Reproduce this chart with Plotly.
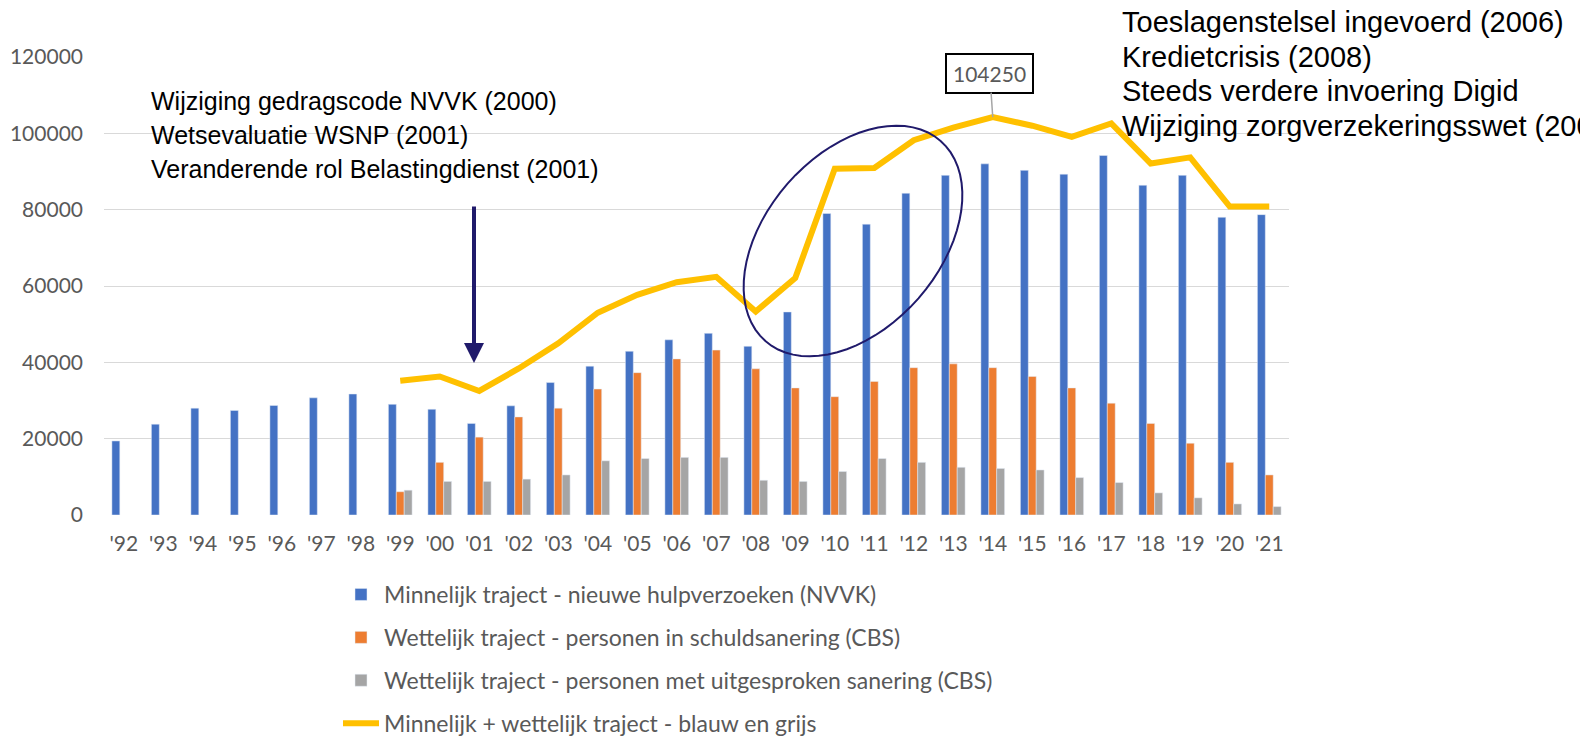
import math
import plotly.graph_objects as go

years = ["'92", "'93", "'94", "'95", "'96", "'97", "'98", "'99", "'00", "'01",
         "'02", "'03", "'04", "'05", "'06", "'07", "'08", "'09", "'10", "'11",
         "'12", "'13", "'14", "'15", "'16", "'17", "'18", "'19", "'20", "'21"]

minnelijk = [19400, 23800, 28000, 27400, 28700, 30700, 31700, 29000, 27700, 24000,
             28600, 34700, 39000, 42900, 45900, 47600, 44200, 53200, 79000, 76200,
             84300, 89000, 92000, 90300, 89300, 94200, 86400, 89000, 78000, 78700]

wettelijk_schuld = [None, None, None, None, None, None, None, 6100, 13800, 20400,
                    25700, 28000, 33000, 37300, 40900, 43200, 38300, 33300, 31000, 35000,
                    38600, 39600, 38600, 36300, 33300, 29300, 24000, 18800, 13800, 10500]

wettelijk_uitgesproken = [None, None, None, None, None, None, None, 6500, 8800, 8800,
                          9400, 10500, 14200, 14800, 15100, 15100, 9100, 8800, 11400, 14800,
                          13800, 12500, 12200, 11800, 9800, 8500, 5800, 4500, 2900, 2200]

totaal = [None, None, None, None, None, None, None, 35200, 36300, 32500,
          38400, 45000, 53000, 57700, 61000, 62400, 53300, 62100, 90700, 90900,
          98200, 101500, 104250, 102000, 99100, 102600, 92100, 93700, 80800, 80800]

names = ["Minnelijk traject - nieuwe hulpverzoeken (NVVK)",
         "Wettelijk traject - personen in schuldsanering (CBS)",
         "Wettelijk traject - personen met uitgesproken sanering (CBS)",
         "Minnelijk + wettelijk traject - blauw en grijs"]

left_notes = ["Wijziging gedragscode NVVK (2000)",
              "Wetsevaluatie WSNP (2001)",
              "Veranderende rol Belastingdienst (2001)"]
right_notes = ["Toeslagenstelsel ingevoerd (2006)",
               "Kredietcrisis (2008)",
               "Steeds verdere invoering Digid",
               "Wijziging zorgverzekeringsswet (2006)"]

W, H = 1580, 741
L, R, T, B = 104, 291, 57, 226
PW, PH = W - L - R, H - T - B


def px(xp):
    return (xp - L) / PW


def py(yp):
    return (H - B - yp) / PH


GRAY_TXT = "#595959"
TICKFONT = dict(family="Lato, Open Sans, sans-serif", size=21, color=GRAY_TXT)

fig = go.Figure()
fig.add_trace(go.Bar(x=years, y=minnelijk, name=names[0], marker_color="#4472C4",
                     legendgroup="a"))
fig.add_trace(go.Bar(x=years, y=wettelijk_schuld, name=names[1], marker_color="#ED7D31",
                     legendgroup="b"))
fig.add_trace(go.Bar(x=years, y=wettelijk_uitgesproken, name=names[2], marker_color="#A5A5A5",
                     legendgroup="c"))
fig.add_trace(go.Scatter(x=years, y=totaal, name=names[3], mode="lines",
                         line=dict(color="#FFC000", width=6), legendgroup="d"))

annotations = []
# left note block
for i, t in enumerate(left_notes):
    annotations.append(dict(xref="paper", yref="paper", x=px(149), y=py(101 + 34 * i),
                            xanchor="left", yanchor="middle", showarrow=False, text=t,
                            font=dict(family="Liberation Sans, Arial", size=25, color="black")))
# right note block
for i, t in enumerate(right_notes):
    annotations.append(dict(xref="paper", yref="paper", x=px(1120), y=py(22 + 34.5 * i),
                            xanchor="left", yanchor="middle", showarrow=False, text=t,
                            font=dict(family="Liberation Sans, Arial", size=29, color="black")))
# arrow
annotations.append(dict(xref="paper", yref="paper", x=px(474), y=py(363), ax=0, ay=-158,
                        text="", showarrow=True, arrowhead=2, arrowsize=1.0, arrowwidth=4,
                        arrowcolor="#201A6B"))
# peak label
peak_i = totaal.index(max(v for v in totaal if v is not None))
annotations.append(dict(x=years[peak_i], y=totaal[peak_i], text=str(totaal[peak_i]),
                        showarrow=True, arrowhead=0, arrowwidth=1.5, arrowcolor="#A6A6A6",
                        ax=-3, ay=-44, bgcolor="white", bordercolor="black", borderwidth=2,
                        borderpad=6, font=TICKFONT))

# ellipse highlight (rotated), pixel space -> paper
cx, cy, a, b, th = 853, 241, 133, 87, math.radians(48.8)
pts = []
for k in range(73):
    t = 2 * math.pi * k / 72
    ex = a * math.cos(t)
    ey = b * math.sin(t)
    xr = cx + ex * math.cos(th) - ey * math.sin(th)
    yr = cy - (ex * math.sin(th) + ey * math.cos(th))
    pts.append((px(xr), py(yr)))
path = "M " + " L ".join(f"{x:.5f},{y:.5f}" for x, y in pts) + " Z"

fig.update_layout(
    width=W, height=H,
    margin=dict(l=L, r=R, t=T, b=B, autoexpand=False),
    plot_bgcolor="white", paper_bgcolor="white",
    barmode="group", bargap=0.4, bargroupgap=0,
    showlegend=True,
    legend=dict(x=px(338), y=py(573), xanchor="left", yanchor="top",
                font=dict(family="Lato, Open Sans, sans-serif", size=23, color=GRAY_TXT),
                tracegroupgap=10, itemwidth=36, traceorder="grouped"),
    annotations=annotations,
    shapes=[dict(type="path", xref="paper", yref="paper", path=path,
                 line=dict(color="#201A6B", width=2))],
)
fig.update_xaxes(type="category", showgrid=False, zeroline=False, showline=False,
                 tickfont=TICKFONT, ticks="", ticklabelstandoff=14, automargin=False)
fig.update_yaxes(range=[0, 120000], dtick=20000, tickformat="d", showgrid=True,
                 gridcolor="#D9D9D9", gridwidth=1, zeroline=False, showline=False,
                 tickfont=TICKFONT, ticks="", ticklabelstandoff=20, automargin=False)

fig.write_html("out.html", config={"displayModeBar": False},
               post_script="document.body.style.margin='0';")
